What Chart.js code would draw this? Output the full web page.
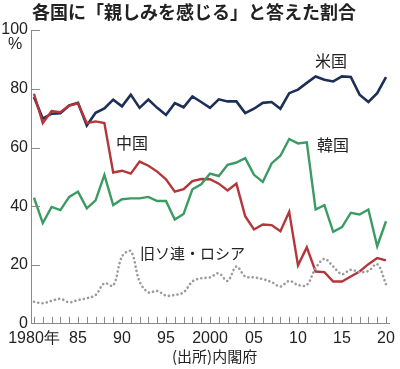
<!DOCTYPE html>
<html>
<head>
<meta charset="utf-8">
<script src="https://cdn.jsdelivr.net/npm/chart.js@4.4.1/dist/chart.umd.min.js"></script>
<style>
  html, body { margin: 0; padding: 0; background: #fff; }
  #wrap { width: 400px; height: 369px; position: relative; }
</style>
</head>
<body>
<div id="wrap"><canvas id="c"></canvas></div>
<script>
// ---- data (内閣府 外交に関する世論調査, 読み取り値) ----
const years = [1980, 1981, 1982, 1983, 1984, 1985, 1986, 1987, 1988, 1989,
  1990, 1991, 1992, 1993, 1994, 1995, 1996, 1997, 1998, 1999,
  2000, 2001, 2002, 2003, 2004, 2005, 2006, 2007, 2008, 2009,
  2010, 2011, 2012, 2013, 2014, 2015, 2016, 2017, 2018, 2019, 2020];

const usa = [77.2, 69.8, 71.5, 71.7, 74.3, 75.2, 67.5, 71.8, 73.3, 76.3,
  74.0, 78.0, 73.5, 76.3, 73.5, 71.1, 75.1, 73.7, 77.4, 75.5,
  73.5, 76.4, 75.7, 75.7, 71.7, 73.2, 75.2, 75.5, 73.2, 78.5,
  79.7, 82.0, 84.2, 83.1, 82.5, 84.2, 84.0, 78.0, 75.5, 78.5, 84.0];

const china = [78.3, 68.3, 72.4, 72.0, 74.3, 75.0, 68.3, 68.9, 68.3, 51.5,
  52.1, 51.1, 55.2, 53.8, 51.8, 49.2, 45.0, 45.8, 48.6, 49.3,
  49.2, 47.7, 45.4, 47.7, 36.6, 32.1, 33.8, 33.6, 31.5, 38.1,
  19.9, 26.0, 17.8, 17.6, 14.4, 14.4, 16.1, 17.8, 20.3, 22.4, 21.6];

const korea = [42.9, 34.3, 39.8, 38.7, 43.2, 45.0, 39.3, 42.0, 50.7, 40.4,
  42.4, 42.7, 42.7, 43.2, 41.8, 41.8, 35.5, 37.4, 45.8, 47.5,
  51.1, 50.3, 54.1, 54.9, 56.4, 50.7, 48.3, 54.6, 57.2, 62.9,
  61.4, 61.8, 38.9, 40.4, 31.3, 32.9, 37.8, 37.2, 38.9, 26.4, 34.9];

const russia = [7.5, 7.0, 7.8, 8.5, 7.3, 8.1, 8.7, 9.8, 13.8, 13.0,
  22.9, 24.7, 14.4, 10.7, 11.2, 9.6, 9.8, 10.7, 14.4, 15.5,
  15.8, 17.2, 14.6, 19.5, 16.1, 15.8, 15.2, 14.2, 12.7, 14.6,
  13.2, 13.2, 18.9, 22.1, 19.5, 16.9, 18.4, 17.6, 18.0, 20.3, 13.5];

const yTicks = [0, 20, 40, 60, 80, 100];
const xLabels = { 1980: '1980年', 1985: '85', 1990: '90', 1995: '95', 2000: '2000',
  2005: '05', 2010: '10', 2015: '15', 2020: '20' };

// ---- styles ----
const NUM_FONT = '"Liberation Sans", Arial, sans-serif';
const JP_FONT = '"Noto Sans CJK JP", "Noto Sans", sans-serif';
const AXIS_COLOR = '#8a8a8a';
const TEXT_COLOR = '#222';

const pts = arr => arr.map((v, i) => ({ x: years[i], y: v }));

// 目盛り（内向き）と注記テキスト
const decor = {
  id: 'decor',
  afterDraw(chart) {
    const { ctx, chartArea: a, scales: { x, y } } = chart;
    ctx.save();
    ctx.strokeStyle = AXIS_COLOR;
    ctx.lineWidth = 1;
    ctx.beginPath();
    years.forEach(v => {
      const px = Math.round(x.getPixelForValue(v)) + 0.5;
      ctx.moveTo(px, a.bottom);
      ctx.lineTo(px, a.bottom - 7);
    });
    yTicks.forEach(v => {
      if (v === 0) return;
      const py = Math.round(y.getPixelForValue(v)) + 0.5;
      ctx.moveTo(a.left, py);
      ctx.lineTo(a.left + 9, py);
    });
    ctx.stroke();

    ctx.fillStyle = TEXT_COLOR;
    ctx.textBaseline = 'middle';
    ctx.textAlign = 'left';
    ctx.font = 'bold 18px ' + JP_FONT;
    ctx.fillText('各国に「親しみを感じる」と答えた割合', 32, 12);

    ctx.font = '16px ' + JP_FONT;
    ctx.fillText('米国', 315, 61);
    ctx.fillText('中国', 116, 143);
    ctx.fillText('韓国', 317, 145);
    ctx.font = '15px ' + JP_FONT;
    ctx.fillText('旧ソ連・ロシア', 140, 253);
    ctx.fillText('(出所)内閣府', 172, 356);

    ctx.font = '16px ' + NUM_FONT;
    ctx.textAlign = 'center';
    ctx.fillText('%', 15, 45);
    ctx.restore();
  }
};

new Chart(document.getElementById('c'), {
  type: 'line',
  data: {
    datasets: [
      { label: '旧ソ連・ロシア', data: pts(russia), borderColor: '#9b9b9b', borderWidth: 2.6,
        borderDash: [0.1, 4.2], borderCapStyle: 'round', tension: 0.35 },
      { label: '韓国', data: pts(korea), borderColor: '#3b9b62', borderWidth: 2.4 },
      { label: '中国', data: pts(china), borderColor: '#b3363a', borderWidth: 2.4 },
      { label: '米国', data: pts(usa), borderColor: '#1c2f58', borderWidth: 2.6 }
    ]
  },
  options: {
    responsive: true,
    maintainAspectRatio: false,
    animation: false,
    elements: { point: { radius: 0 }, line: { tension: 0, borderJoinStyle: 'miter' } },
    layout: { padding: { top: 30, left: 2, right: 10, bottom: 16 } },
    plugins: { legend: { display: false }, tooltip: { enabled: false } },
    scales: {
      x: {
        type: 'linear', min: 1979.66, max: 2020.4,
        afterBuildTicks: s => { s.ticks = years.map(v => ({ value: v })); },
        grid: { display: false, drawTicks: false, tickLength: 0 },
        border: { display: true, color: AXIS_COLOR, width: 1 },
        ticks: {
          autoSkip: false, maxRotation: 0, padding: 5,
          color: TEXT_COLOR, font: { family: NUM_FONT, size: 16 },
          callback: v => xLabels[v] || ''
        }
      },
      y: {
        min: 0, max: 100,
        afterBuildTicks: s => { s.ticks = yTicks.map(v => ({ value: v })); },
        afterFit: s => { s.width = 29; },
        grid: { display: false, drawTicks: false, tickLength: 0 },
        border: { display: true, color: AXIS_COLOR, width: 1 },
        ticks: {
          padding: 3, color: TEXT_COLOR, font: { family: NUM_FONT, size: 16 }
        }
      }
    }
  },
  plugins: [decor]
});
</script>
</body>
</html>
